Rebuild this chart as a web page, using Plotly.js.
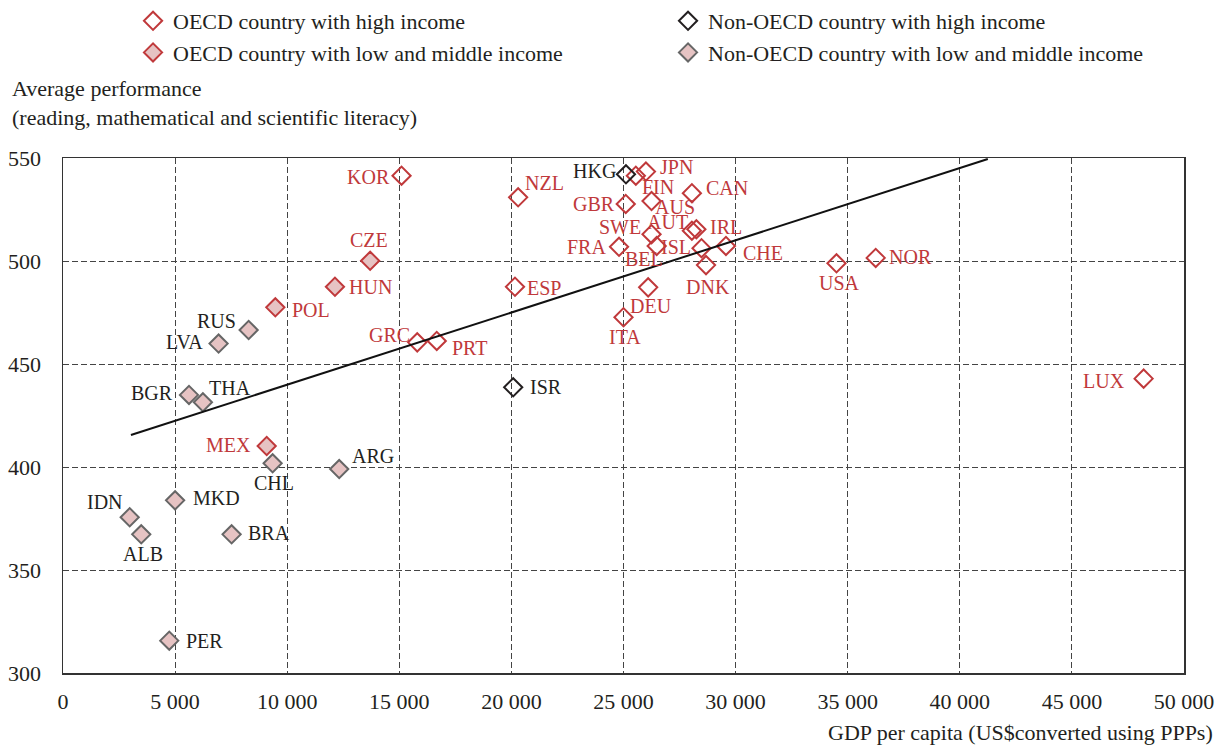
<!DOCTYPE html>
<html>
<head>
<meta charset="utf-8">
<script src="https://cdn.plot.ly/plotly-3.0.1.min.js"></script>
<style>html,body{margin:0;padding:0;background:#fff;}#chart{width:1226px;height:748px;}</style>
</head>
<body>
<div id="chart"></div>
<script>
// OECD countries with high income
const oecdHighNames = ["KOR","NZL","JPN","FIN","GBR","AUS","CAN","SWE","AUT","IRL","FRA","BEL","ISL","CHE","DNK","ESP","DEU","ITA","GRC","PRT","USA","NOR","LUX"];
const oecdHighGDP   = [15100,20300,26000,25550,25100,26250,28050,26250,28050,28250,24800,26480,28480,29570,28680,20160,26100,25000,15800,16670,34500,36250,48200];
const oecdHighPerf  = [541.4,530.9,543.4,541.4,527.7,529.1,532.9,513.0,514.7,515.4,506.9,507.3,506.2,507.3,498.0,487.5,487.2,472.7,460.5,461.2,498.9,501.5,442.9];

// OECD countries with low and middle income
const oecdLowNames = ["CZE","HUN","POL","MEX"];
const oecdLowGDP   = [13700,12130,9470,9085];
const oecdLowPerf  = [500.1,487.5,477.5,410.2];

// Non-OECD countries with high income
const nonHighNames = ["HKG","ISR"];
const nonHighGDP   = [25110,20080];
const nonHighPerf  = [542.1,438.7];

// Non-OECD countries with low and middle income
const nonLowNames = ["RUS","LVA","BGR","THA","CHL","ARG","MKD","IDN","ALB","BRA","PER"];
const nonLowGDP   = [8280,6940,5620,6240,9350,12320,5000,2975,3490,7520,4740];
const nonLowPerf  = [466.5,459.9,435.0,431.4,401.8,399.0,383.8,375.6,367.3,367.3,315.7];

// Trend line (end points)
const trendGDP  = [3030, 41250];
const trendPerf = [415.5, 549.5];

// Axis ticks
const xTickVals = [0,5000,10000,15000,20000,25000,30000,35000,40000,45000,50000];
const xTickText = ["0","5 000","10 000","15 000","20 000","25 000","30 000","35 000","40 000","45 000","50 000"];
const yTickVals = [300,350,400,450,500,550];

// Label placement (anchor, pixel shift right, pixel shift down) - layout only
const labelPlace = {
  KOR:["right",-10,1], NZL:["left",5,-14], JPN:["left",12,-5], FIN:["left",4,11], GBR:["right",-9,0],
  AUS:["left",1,6], CAN:["left",12,-5], SWE:["right",-9,-7], AUT:["right",-2,-9], IRL:["left",12,-2],
  FRA:["right",-11,0], BEL:["center",-13,13], ISL:["right",-9,-1], CHE:["left",15,7], DNK:["center",2,22],
  ESP:["left",10,1], DEU:["center",3,19], ITA:["center",1,20], GRC:["right",-5,-7], PRT:["left",13,7],
  USA:["center",3,20], NOR:["left",11,-1], LUX:["right",-17,2],
  CZE:["center",-1,-21], HUN:["left",12,0], POL:["left",15,3], MEX:["right",-14,-1],
  HKG:["right",-8,-3], ISR:["left",15,0],
  RUS:["right",-11,-9], LVA:["right",-14,-2], BGR:["right",-14,-2], THA:["left",4,-14], CHL:["center",1,20],
  ARG:["left",11,-13], MKD:["left",16,-2], IDN:["right",-5,-15], ALB:["center",2,20], BRA:["left",14,-1],
  PER:["left",15,0]
};

const RED = "#c0393b";
const PINK = "#e6c3c3";
const GREY = "#666666";
const DARK = "#231f20";
const FONT = "'Liberation Serif', 'DejaVu Serif', serif";

function mk(names, xs, ys, name, fill, edge) {
  return {
    x: xs, y: ys, text: names, mode: "markers", type: "scatter", name: name,
    marker: {symbol: "diamond", size: 14, color: fill, line: {color: edge, width: 2}},
    hoverinfo: "text", cliponaxis: false
  };
}

const traces = [
  mk(oecdHighNames, oecdHighGDP, oecdHighPerf, "OECD country with high income", "rgba(255,255,255,0)", RED),
  mk(nonHighNames, nonHighGDP, nonHighPerf, "Non-OECD country with high income", "rgba(255,255,255,0)", DARK),
  mk(oecdLowNames, oecdLowGDP, oecdLowPerf, "OECD country with low and middle income", PINK, RED),
  mk(nonLowNames, nonLowGDP, nonLowPerf, "Non-OECD country with low and middle income", PINK, GREY),
  {
    x: trendGDP, y: trendPerf, mode: "lines", type: "scatter", showlegend: false,
    line: {color: "#111", width: 2}, hoverinfo: "skip"
  }
];

const annotations = [];
function addLabels(names, xs, ys, color) {
  names.forEach((n, i) => {
    const p = labelPlace[n];
    annotations.push({
      text: n, x: xs[i], y: ys[i], xref: "x", yref: "y", showarrow: false,
      xanchor: p[0], yanchor: "middle", xshift: p[1], yshift: -p[2],
      font: {family: FONT, size: 20, color: color}
    });
  });
}
addLabels(oecdHighNames, oecdHighGDP, oecdHighPerf, RED);
addLabels(oecdLowNames, oecdLowGDP, oecdLowPerf, RED);
addLabels(nonHighNames, nonHighGDP, nonHighPerf, DARK);
addLabels(nonLowNames, nonLowGDP, nonLowPerf, DARK);

annotations.push(
  {
    text: "Average performance<br>(reading, mathematical and scientific literacy)",
    xref: "paper", yref: "paper", x: -0.0473, y: 1.163, xanchor: "left", yanchor: "top",
    align: "left", showarrow: false, font: {family: FONT, size: 22, color: DARK}
  },
  {
    text: "GDP per capita (US$converted using PPPs)",
    xref: "paper", yref: "paper", x: 1.0277, y: -0.1165, xanchor: "right", yanchor: "middle",
    showarrow: false, font: {family: FONT, size: 22, color: DARK}
  }
);

const layout = {
  width: 1226, height: 748,
  margin: {l: 63, r: 42, t: 158, b: 75},
  paper_bgcolor: "#fff", plot_bgcolor: "#fff",
  font: {family: FONT, color: DARK, size: 21},
  showlegend: true,
  legend: {
    orientation: "h", xref: "container", yref: "container", x: 0.1085, y: 1,
    xanchor: "left", yanchor: "top",
    entrywidth: 490, entrywidthmode: "pixels", traceorder: "normal",
    font: {family: FONT, size: 22, color: DARK}
  },
  xaxis: {
    range: [0, 50000], tickvals: xTickVals, ticktext: xTickText,
    showgrid: true, gridcolor: "#444", griddash: "6px,3px", gridwidth: 1,
    zeroline: false, showline: true, linecolor: "#333", linewidth: 1.5, mirror: true,
    ticks: "", ticklabelstandoff: 8,
    tickfont: {family: FONT, size: 22, color: DARK}
  },
  yaxis: {
    range: [300, 550], tickvals: yTickVals,
    showgrid: true, gridcolor: "#444", griddash: "6px,3px", gridwidth: 1,
    zeroline: false, showline: true, linecolor: "#333", linewidth: 1.5, mirror: true,
    ticks: "", ticklabelstandoff: 16,
    tickfont: {family: FONT, size: 22, color: DARK}
  },
  annotations: annotations
};

Plotly.newPlot("chart", traces, layout, {displayModeBar: false, staticPlot: true});
</script>
</body>
</html>
